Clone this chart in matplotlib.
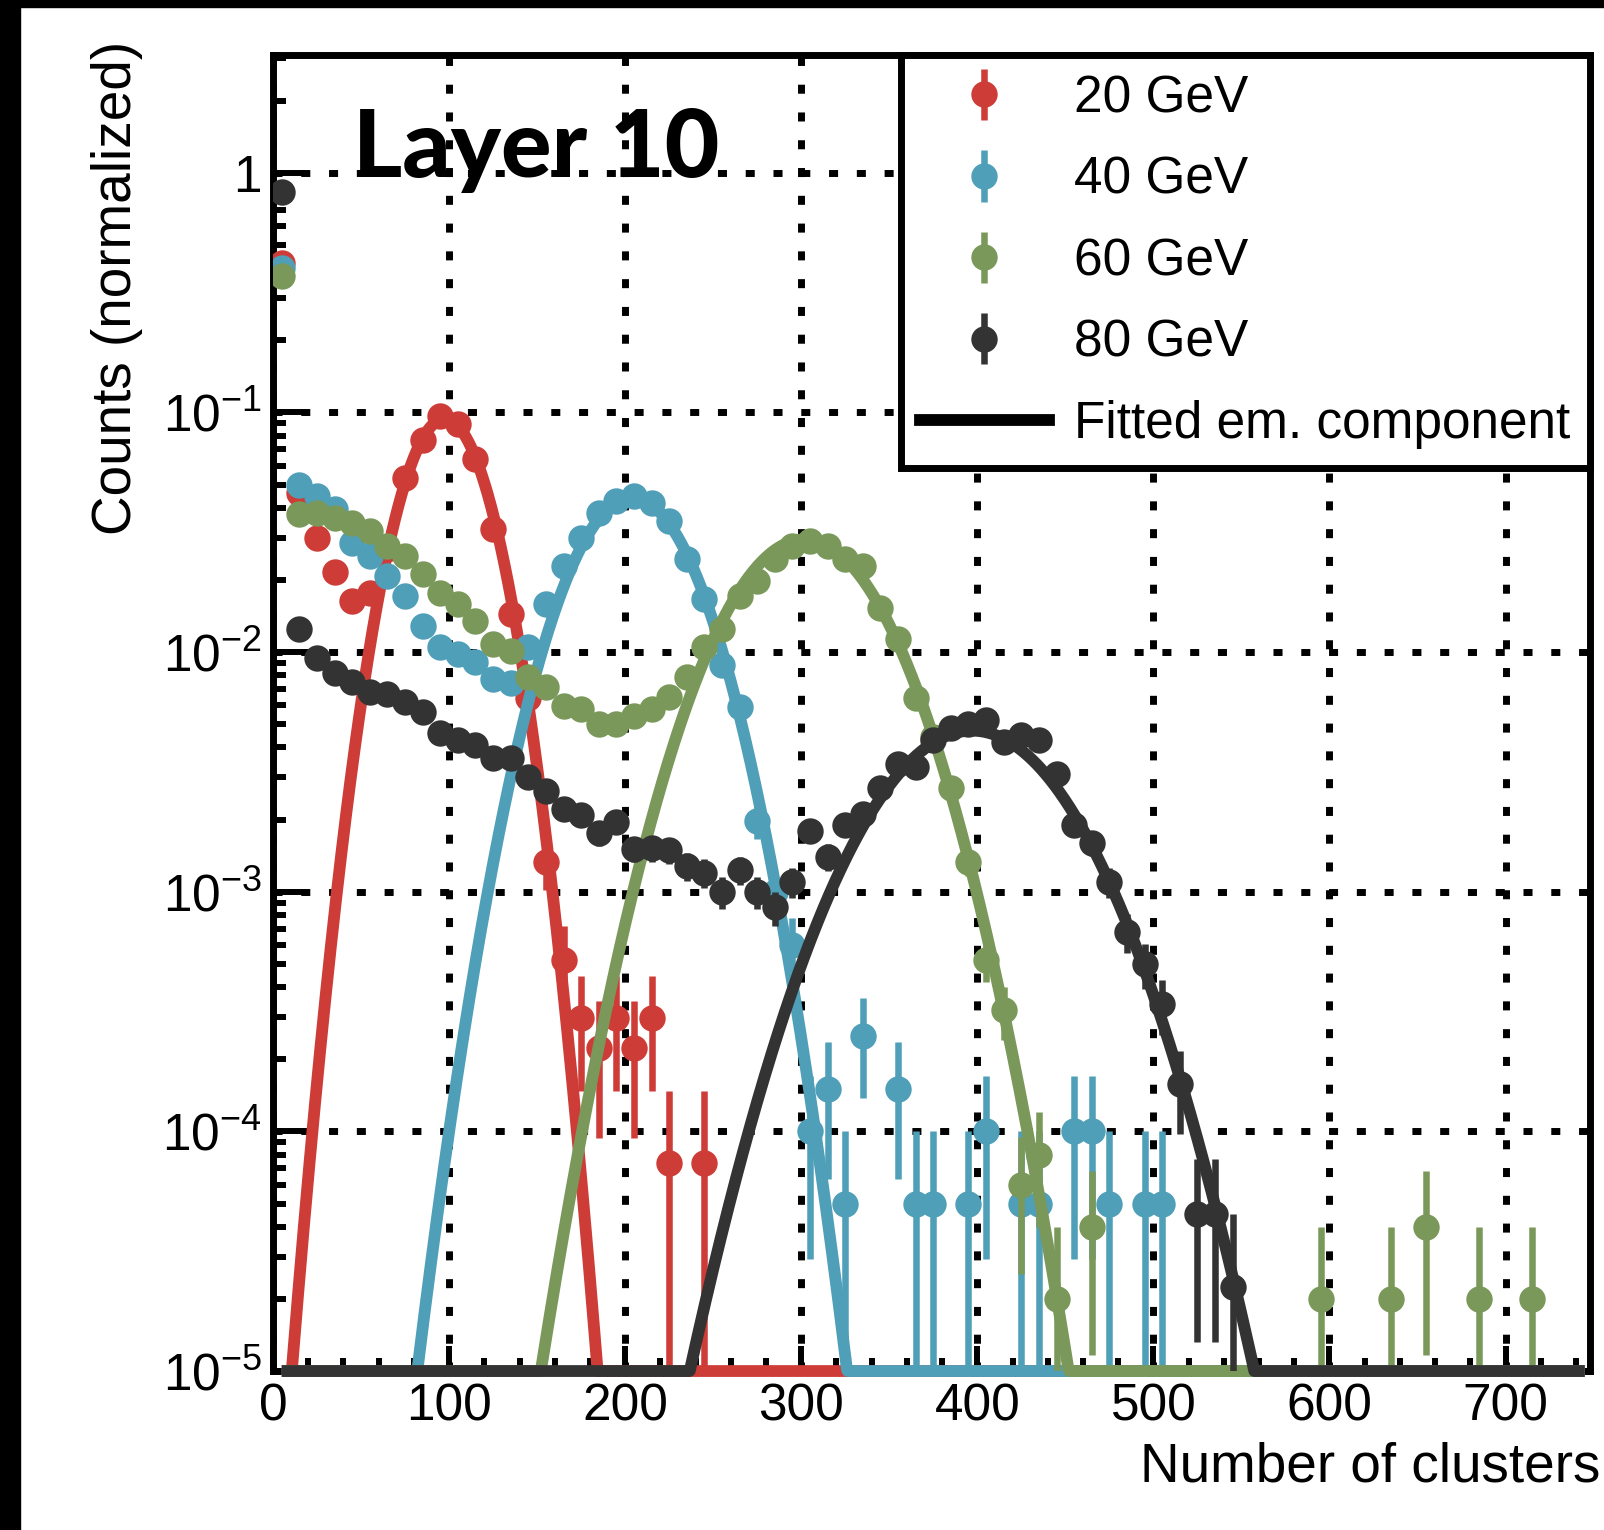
import numpy as np
import matplotlib
matplotlib.use('Agg')
import matplotlib.pyplot as plt
from matplotlib.ticker import MultipleLocator, LogLocator, NullFormatter
from matplotlib.lines import Line2D
from matplotlib.patches import Rectangle

plt.rcParams['font.family'] = ['Liberation Sans', 'DejaVu Sans']
plt.rcParams['mathtext.fontset'] = 'custom'
plt.rcParams['mathtext.rm'] = 'Liberation Sans'
plt.rcParams['mathtext.it'] = 'Liberation Sans:italic'
plt.rcParams['mathtext.bf'] = 'Liberation Sans:bold'

# ---- data (bin centres, normalized counts) ----
labels = ['20 GeV', '40 GeV', '60 GeV', '80 GeV']
colors = ['#CE3C38', '#4F9FB8', '#7A985A', '#333333']

x_20 = [5, 15, 25, 35, 45, 55, 65, 75, 85, 95, 105, 115, 125, 135, 145, 155,
        165, 175, 185, 195, 205, 215, 225, 245]
y_20 = [0.42, 0.046, 0.030, 0.0215, 0.0164, 0.0177, 0.027, 0.0534, 0.077,
        0.0966, 0.089, 0.0637, 0.0325, 0.0144, 0.0064, 0.00133, 0.00052,
        2.96e-4, 2.22e-4, 2.96e-4, 2.22e-4, 2.96e-4, 7.4e-5, 7.4e-5]

x_40 = [5, 15, 25, 35, 45, 55, 65, 75, 85, 95, 105, 115, 125, 135, 145, 155,
        165, 175, 185, 195, 205, 215, 225, 235, 245, 255, 265, 275, 285, 295,
        305, 315, 325, 335, 355, 365, 375, 395, 405, 425, 435, 455, 465, 475,
        495, 505]
y_40 = [0.40, 0.050, 0.0448, 0.0394, 0.0286, 0.0252, 0.0208, 0.0172, 0.0129,
        0.0105, 0.0098, 0.0091, 0.0077, 0.0074, 0.0105, 0.0158, 0.0229, 0.030,
        0.038, 0.0426, 0.0448, 0.042, 0.0352, 0.0244, 0.0166, 0.0088, 0.0059,
        0.00197, 0.0010, 6e-4, 1e-4, 1.5e-4, 5e-5, 2.5e-4, 1.5e-4, 5e-5, 5e-5,
        5e-5, 1e-4, 5e-5, 5e-5, 1e-4, 1e-4, 5e-5, 5e-5, 5e-5]

x_60 = [5, 15, 25, 35, 45, 55, 65, 75, 85, 95, 105, 115, 125, 135, 145, 155,
        165, 175, 185, 195, 205, 215, 225, 235, 245, 255, 265, 275, 285, 295,
        305, 315, 325, 335, 345, 355, 365, 375, 385, 395, 405, 415, 425, 435,
        445, 465, 595, 635, 655, 685, 715]
y_60 = [0.37, 0.0376, 0.0382, 0.0364, 0.0347, 0.032, 0.0277, 0.0252, 0.0211,
        0.0177, 0.0158, 0.0135, 0.0108, 0.0101, 0.00785, 0.00713, 0.00597,
        0.00579, 0.0050, 0.0050, 0.00543, 0.0058, 0.00648, 0.00785, 0.0105,
        0.0125, 0.0172, 0.0198, 0.0244, 0.0277, 0.0291, 0.0277, 0.0244, 0.0229,
        0.0153, 0.0113, 0.0064, 0.0044, 0.0027, 0.00133, 5.2e-4, 3.2e-4, 6e-5,
        8e-5, 2e-5, 4e-5, 2e-5, 2e-5, 4e-5, 2e-5, 2e-5]

x_80 = [5, 15, 25, 35, 45, 55, 65, 75, 85, 95, 105, 115, 125, 135, 145, 155,
        165, 175, 185, 195, 205, 215, 225, 235, 245, 255, 265, 275, 285, 295,
        305, 315, 325, 335, 345, 355, 365, 375, 385, 395, 405, 415, 425, 435,
        445, 455, 465, 475, 485, 495, 505, 515, 525, 535, 545]
y_80 = [0.83, 0.0125, 0.0094, 0.0082, 0.0075, 0.0068, 0.0067, 0.0062, 0.0056,
        0.0046, 0.0043, 0.0041, 0.0036, 0.0036, 0.0030, 0.00264, 0.00222,
        0.00208, 0.00175, 0.00195, 0.00151, 0.00152, 0.00149, 0.00128, 0.0012,
        0.0010, 0.00123, 0.0010, 8.6e-4, 0.0011, 0.0018, 0.0014, 0.0019, 0.0021,
        0.0027, 0.0034, 0.0033, 0.0043, 0.0048, 0.0050, 0.0052, 0.0042, 0.0045,
        0.0043, 0.0031, 0.0019, 0.0016, 0.0011, 6.8e-4, 5e-4, 3.4e-4, 1.57e-4,
        4.5e-5, 4.5e-5, 2.25e-5]

# normalized weight of a single entry (for Poisson error bars)
entry_weight = [7.4e-5, 5e-5, 2e-5, 2.25e-5]

# fitted em. component: gaussian amplitude, mean, sigma
fit_amp = [0.094, 0.044, 0.0295, 0.0047]
fit_mean = [97.5, 204, 302, 397]
fit_sigma = [20.3, 29.8, 37.5, 45.7]
fit_range = (5, 745)

xticks = [0, 100, 200, 300, 400, 500, 600, 700]
yticks = [1e-5, 1e-4, 1e-3, 1e-2, 1e-1, 1]
yticklabels = [r'$\mathdefault{10^{-5}}$', r'$\mathdefault{10^{-4}}$',
               r'$\mathdefault{10^{-3}}$', r'$\mathdefault{10^{-2}}$',
               r'$\mathdefault{10^{-1}}$', '1']

xs = [x_20, x_40, x_60, x_80]
ys = [y_20, y_40, y_60, y_80]

ymin, ymax = 1e-5, 3.1

fig = plt.figure(figsize=(16.04, 15.30), dpi=100)
ax = fig.add_axes([0.1702, 0.1039, 0.8211, 0.8602])

handles = []
for i in range(4):
    x = np.array(xs[i])
    y = np.array(ys[i])
    err = np.sqrt(y * entry_weight[i])
    lo = np.minimum(err, y * (1 - 1e-9))
    eb = ax.errorbar(x, y, yerr=[lo, err], fmt='o', color=colors[i], ms=19,
                     mew=0, elinewidth=4.7, capsize=0, zorder=3 + 2 * i)
    handles.append(eb)

    # fitted curve, floored at the frame minimum like the original
    xf = np.linspace(fit_range[0], fit_range[1], 2000)
    yf = fit_amp[i] * np.exp(-0.5 * ((xf - fit_mean[i]) / fit_sigma[i]) ** 2)
    ax.plot(xf, np.maximum(yf, ymin), color=colors[i], lw=8.5, zorder=4 + 2 * i,
            clip_on=False, solid_capstyle='butt')

ax.set_yscale('log')
ax.set_xlim(0, 748)
ax.set_ylim(ymin, ymax)
ax.set_xticks(xticks)
ax.xaxis.set_minor_locator(MultipleLocator(20))
ax.set_yticks(yticks, yticklabels)
ax.yaxis.set_minor_locator(LogLocator(base=10, subs=np.arange(2, 10), numticks=30))
ax.yaxis.set_minor_formatter(NullFormatter())

ax.grid(which='major', color='black', linestyle=(0, (1.3, 2.7)), linewidth=5)
ax.tick_params(which='both', direction='in', top=False, right=False,
               labelsize=37, pad=8, width=4.3)
ax.tick_params(axis='y', which='major', length=24)
ax.tick_params(axis='y', which='minor', length=9.4)
ax.tick_params(axis='x', which='major', length=18)
ax.tick_params(axis='x', which='minor', length=9.4)
for s in ax.spines.values():
    s.set_linewidth(5)

leg = ax.legend(handles + [Line2D([], [], color='black', lw=8.5)],
                labels + ['Fitted em. component'],
                loc='upper right', bbox_to_anchor=(1, 1), borderaxespad=0,
                fontsize=37, fancybox=False, edgecolor='black', framealpha=1,
                borderpad=0.38, labelspacing=0.63, handlelength=2.5,
                handletextpad=0.5)
leg.get_frame().set_linewidth(5)
leg.set_zorder(20)

ax.text(0.061, 0.907, 'Layer 10', transform=ax.transAxes, fontsize=68,
        fontweight=900, family=['Lato', 'DejaVu Sans'], va='baseline',
        zorder=15)

fig.text(0.9975, 0.032, 'Number of clusters', ha='right', va='baseline',
         fontsize=39.5)
fig.text(0.073, 0.973, 'Counts (normalized)', rotation=90, ha='center',
         va='top', fontsize=39.5)

# black frame strips of the original canvas
fig.patches.append(Rectangle((0, 0), 20 / 1604, 1, transform=fig.transFigure,
                             color='black', zorder=0))
fig.patches.append(Rectangle((0, 1 - 7 / 1530), 1, 7 / 1530,
                             transform=fig.transFigure, color='black', zorder=0))

fig.savefig('out.png', dpi=100)
